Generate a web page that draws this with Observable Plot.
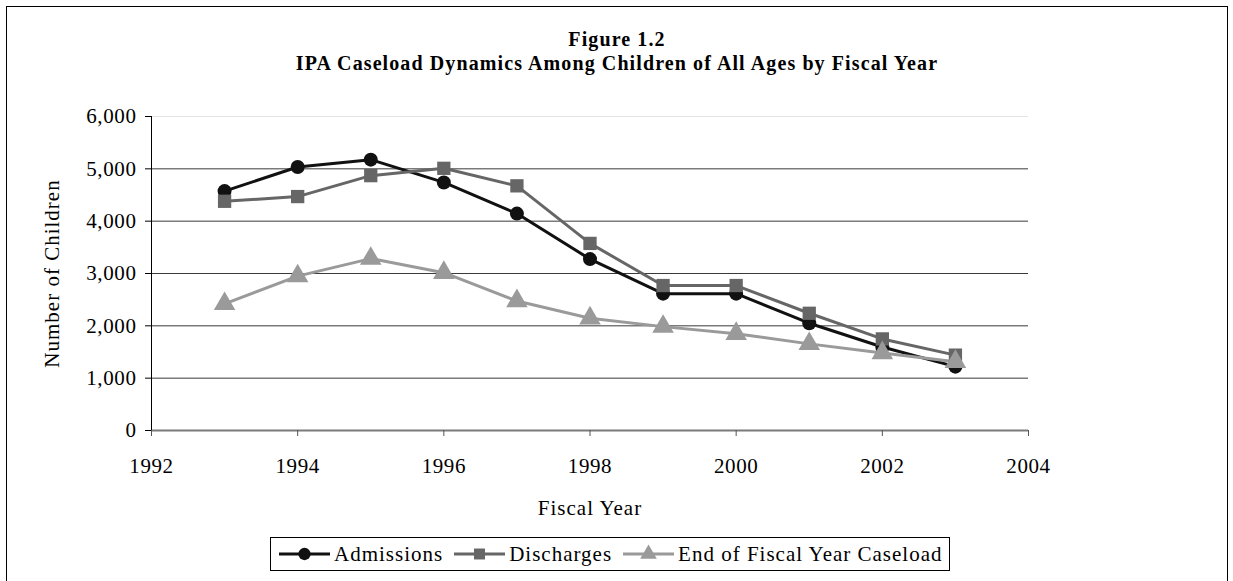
<!DOCTYPE html>
<html>
<head>
<meta charset="utf-8">
<script src="https://cdn.jsdelivr.net/npm/d3@7"></script>
<script src="https://cdn.jsdelivr.net/npm/@observablehq/plot@0.6"></script>
<style>
  html, body { margin: 0; padding: 0; background: #fff; overflow: hidden; }
  #page { position: relative; width: 1233px; height: 581px; font-family: "Liberation Serif", "Times New Roman", serif; }
  #frame { position: absolute; left: 6px; top: 6px; width: 1222px; height: 600px; border: 1px solid #000; box-sizing: border-box; }
  #title { position: absolute; left: 6px; width: 1222px; top: 27px; text-align: center; font-weight: bold; font-size: 20px; line-height: 24px; color: #000; letter-spacing: 1.1px; }
  #chart { position: absolute; left: 0; top: 0; }
  #chart svg text { letter-spacing: 0.6px; }
  #chart svg g[aria-label="x-axis label"] text,
  #chart svg g[aria-label="y-axis label"] text { letter-spacing: 1px; }
  #legend { position: absolute; left: 270px; top: 537px; width: 680px; height: 34px; border: 1px solid #000; box-sizing: border-box; display: flex; flex-wrap: nowrap; align-items: center; justify-content: flex-start; padding-left: 7px; font-size: 21px; letter-spacing: 1px; white-space: nowrap; overflow: visible; }
  #legend .item { display: flex; align-items: center; margin-right: 10px; flex-shrink: 0; white-space: nowrap; }
  #legend .item svg { display: block; margin-right: 3px; flex-shrink: 0; }
</style>
</head>
<body>
<div id="page">
  <div id="frame"></div>
  <div id="title">Figure 1.2<br>IPA Caseload Dynamics Among Children of All Ages by Fiscal Year</div>
  <div id="chart"></div>
  <div id="legend"></div>
</div>
<script>
// Fiscal years and the three caseload series (number of children)
const years = [1993, 1994, 1995, 1996, 1997, 1998, 1999, 2000, 2001, 2002, 2003];
const admissions = [4575, 5035, 5175, 4740, 4145, 3275, 2615, 2615, 2050, 1595, 1220];
const discharges = [4380, 4470, 4870, 5010, 4675, 3575, 2770, 2770, 2240, 1750, 1440];
const caseload = [2420, 2950, 3285, 3015, 2475, 2145, 1985, 1850, 1655, 1480, 1315];

const seriesNames = ["Admissions", "Discharges", "End of Fiscal Year Caseload"];
const seriesColors = ["#111111", "#666666", "#9a9a9a"];
const seriesSymbols = ["circle", "square", "triangle"];
const seriesRadius = [7, 7.5, 8];

const xTicks = [1992, 1994, 1996, 1998, 2000, 2002, 2004];
const yTicks = [0, 1000, 2000, 3000, 4000, 5000, 6000];

const seriesValues = [admissions, discharges, caseload];
const rows = seriesNames.map((name, i) => years.map((year, j) => ({ series: name, year, value: seriesValues[i][j] })));

const marks = [
  Plot.gridY([1000, 2000, 3000, 4000, 5000], { stroke: "#3a3a3a", strokeOpacity: 1, strokeWidth: 1 }),
  Plot.gridY([6000], { stroke: "#e4e4e4", strokeOpacity: 1 }),
  Plot.ruleY([0], { stroke: "#7a7a7a", strokeWidth: 2 }),
  Plot.ruleX([1992], { stroke: "#000", strokeWidth: 1 }),
  Plot.axisX({ ticks: xTicks, tickFormat: d => String(d), tickSize: 6, tickPadding: 22, stroke: "#555",
    label: "Fiscal Year", labelAnchor: "center", labelArrow: "none", labelOffset: 84 }),
  Plot.axisY({ ticks: yTicks, tickFormat: d3.format(","), tickSize: 6, tickPadding: 9,
    label: "Number of Children", labelAnchor: "center", labelArrow: "none", labelOffset: 107 })
];
rows.forEach((data, i) => {
  marks.push(Plot.line(data, { x: "year", y: "value", stroke: seriesColors[i], strokeWidth: 3 }));
});
rows.forEach((data, i) => {
  marks.push(Plot.dot(data, { x: "year", y: "value", fill: seriesColors[i], symbol: seriesSymbols[i], r: seriesRadius[i] }));
});

const chart = Plot.plot({
  width: 1233,
  height: 581,
  marginTop: 116,
  marginBottom: 151,
  marginLeft: 151,
  marginRight: 205,
  style: { fontFamily: "Liberation Serif, Times New Roman, serif", fontSize: "21px", color: "#000", background: "transparent", overflow: "visible" },
  x: { domain: [1992, 2004] },
  y: { domain: [0, 6000] },
  marks
});
document.getElementById("chart").appendChild(chart);

// Legend: line swatch with the series marker, then its name
const legend = document.getElementById("legend");
const symbolTypes = { circle: d3.symbolCircle, square: d3.symbolSquare, triangle: d3.symbolTriangle };
seriesNames.forEach((name, i) => {
  const item = document.createElement("div");
  item.className = "item";
  const sw = d3.create("svg").attr("width", 53).attr("height", 20);
  sw.append("line").attr("x1", 1).attr("x2", 52).attr("y1", 10).attr("y2", 10)
    .attr("stroke", seriesColors[i]).attr("stroke-width", 3);
  sw.append("path").attr("transform", "translate(26.5,10)")
    .attr("d", d3.symbol(symbolTypes[seriesSymbols[i]], 120)())
    .attr("fill", seriesColors[i]);
  item.appendChild(sw.node());
  const label = document.createElement("span");
  label.textContent = name;
  item.appendChild(label);
  legend.appendChild(item);
});
</script>
</body>
</html>
